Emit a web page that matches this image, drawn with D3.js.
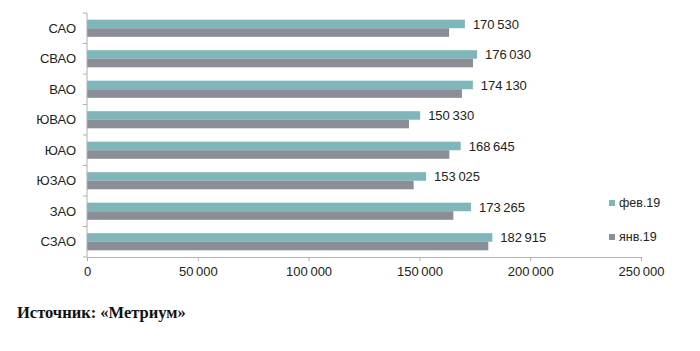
<!DOCTYPE html>
<html>
<head>
<meta charset="utf-8">
<script src="https://cdn.jsdelivr.net/npm/d3@7"></script>
<style>
  body { margin: 0; background: #fff; }
  svg { display: block; }
</style>
</head>
<body>
<svg></svg>
<script>
var districts = ["САО", "СВАО", "ВАО", "ЮВАО", "ЮАО", "ЮЗАО", "ЗАО", "СЗАО"];
var feb19 = [170530, 176030, 174130, 150330, 168645, 153025, 173265, 182915];
var jan19 = [163400, 174200, 169200, 145300, 163500, 147400, 165300, 181100];
var seriesNames = ["фев.19", "янв.19"];
var xTicks = [0, 50000, 100000, 150000, 200000, 250000];

function main() {
  var width = 700, height = 351;
  var fmt = function(v) { return d3.format(",")(v).replace(/,/g, "\u2009"); };

  var svg = d3.select("svg")
    .attr("width", width)
    .attr("height", height)
    .style("font-family", "Arial, 'Liberation Sans', sans-serif");

  var x = d3.scaleLinear().domain([0, 250000]).range([87, 641]);
  var y = d3.scaleBand().domain(districts).range([13, 257]);
  var inner = d3.scaleBand().domain(seriesNames).range([0, y.bandwidth()]).paddingOuter(0.78).paddingInner(0);

  var colors = { "фев.19": "#7fb6b9", "янв.19": "#8b8e96" };

  var rows = districts.map(function(d, i) {
    return { name: d, values: [ { s: "фев.19", v: feb19[i] }, { s: "янв.19", v: jan19[i] } ] };
  });

  var g = svg.selectAll(".row").data(rows).enter().append("g")
    .attr("transform", function(d) { return "translate(0," + y(d.name) + ")"; });

  g.selectAll("rect").data(function(d) { return d.values; }).enter().append("rect")
    .attr("x", x(0))
    .attr("y", function(d) { return inner(d.s); })
    .attr("height", inner.bandwidth())
    .attr("width", function(d) { return x(d.v) - x(0); })
    .attr("fill", function(d) { return colors[d.s]; });

  g.append("text")
    .attr("x", function(d) { return x(d.values[0].v) + 8; })
    .attr("y", inner("фев.19") + inner.bandwidth() / 2)
    .attr("dy", "0.35em")
    .attr("font-size", 13)
    .attr("fill", "#222")
    .text(function(d) { return fmt(d.values[0].v); });

  // y axis
  var yAxis = svg.append("g")
    .attr("transform", "translate(" + x(0) + ",0)");
  yAxis.append("line")
    .attr("y1", 13).attr("y2", 257)
    .attr("stroke", "#b0b0b0");
  yAxis.selectAll(".tk").data(d3.range(districts.length + 1)).enter().append("line")
    .attr("x1", -4).attr("x2", 0)
    .attr("y1", function(i) { return 13 + i * y.step(); })
    .attr("y2", function(i) { return 13 + i * y.step(); })
    .attr("stroke", "#b0b0b0");
  yAxis.selectAll("text").data(districts).enter().append("text")
    .attr("x", -11)
    .attr("y", function(d) { return y(d) + y.bandwidth() / 2; })
    .attr("dy", "0.35em")
    .attr("text-anchor", "end")
    .attr("font-size", 13)
    .attr("fill", "#222")
    .text(function(d) { return d; });

  // x axis
  var xAxis = svg.append("g")
    .attr("transform", "translate(0,257)")
    .call(d3.axisBottom(x).tickValues(xTicks).tickSize(4).tickPadding(6).tickFormat(fmt));
  xAxis.select(".domain").attr("stroke", "#b0b0b0");
  xAxis.selectAll(".tick line").attr("stroke", "#b0b0b0");
  xAxis.selectAll(".tick text")
    .attr("font-size", 13)
    .attr("fill", "#222")
    .attr("font-family", "Arial, 'Liberation Sans', sans-serif");

  // legend
  var leg = svg.selectAll(".leg").data(seriesNames).enter().append("g")
    .attr("transform", function(d, i) { return "translate(609," + (203 + i * 34) + ")"; });
  leg.append("rect")
    .attr("x", 0).attr("y", -3).attr("width", 6).attr("height", 6)
    .attr("fill", function(d) { return colors[d]; });
  leg.append("text")
    .attr("x", 10).attr("dy", "0.35em")
    .attr("font-size", 12.5)
    .attr("fill", "#222")
    .text(function(d) { return d; });

  // source
  svg.append("text")
    .attr("x", 17).attr("y", 318)
    .attr("font-family", "'Liberation Serif', 'Times New Roman', serif")
    .attr("font-weight", "bold")
    .attr("font-size", 16.5)
    .attr("fill", "#111")
    .text("Источник: «Метриум»");
}

main();
</script>
</body>
</html>
